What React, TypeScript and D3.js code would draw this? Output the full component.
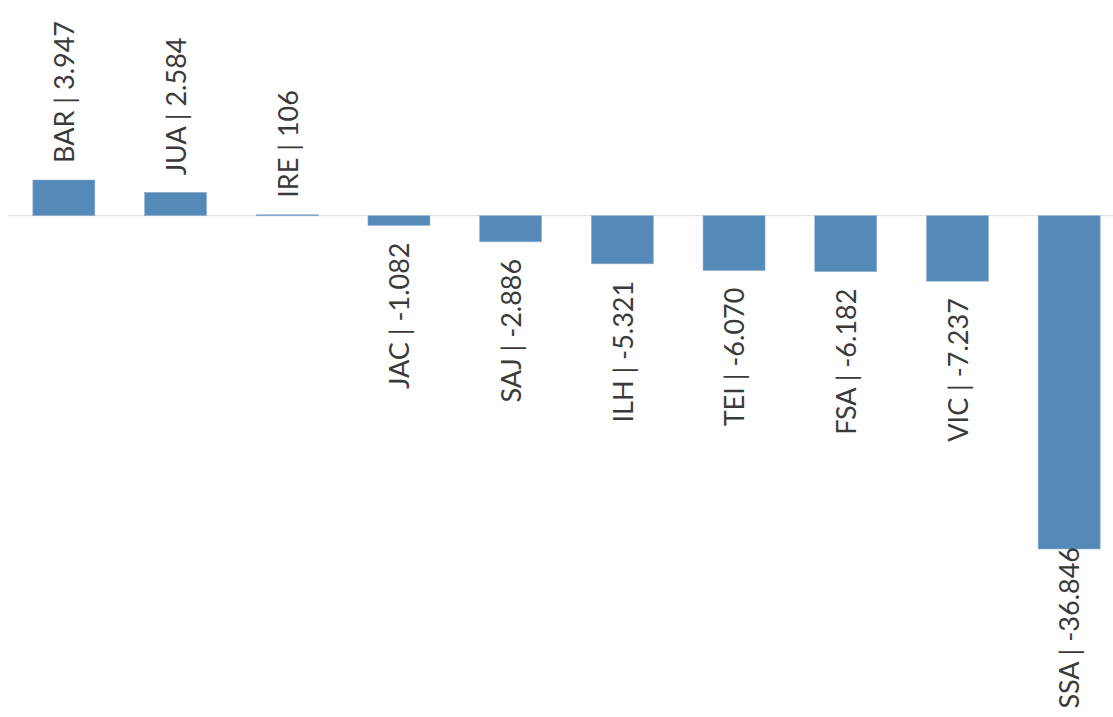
import React from "react";
import * as d3 from "d3";

const categories = ["BAR", "JUA", "IRE", "JAC", "SAJ", "ILH", "TEI", "FSA", "VIC", "SSA"];
const values = [3947, 2584, 106, -1082, -2886, -5321, -6070, -6182, -7237, -36846];

const W = 1113;
const H = 717;
const FONT = 27;

const locale = d3.formatLocale({ decimal: ",", thousands: ".", grouping: [3], currency: ["R$", ""], minus: "-" });
const fmt = locale.format(",d");

export default function App() {
  const x = d3.scaleBand<string>().domain(categories).range([8, 1125]).paddingInner(0.445).paddingOuter(0.2225);
  const y = d3.scaleLinear().domain([d3.min(values)!, d3.max(values)!]).range([549, 180]);
  const y0 = y(0);
  const capH = FONT * 0.76;
  return (
    <svg width={W} height={H} style={{ position: "absolute", left: 0, top: 0, background: "#fff" }}>
      <line x1={8} x2={W} y1={y0} y2={y0} stroke="#dcdcdc" strokeWidth={1} />
      {categories.map((c, i) => {
        const v = values[i];
        const bx = x(c)!;
        const top = Math.min(y(v), y0);
        const h = Math.max(Math.abs(y(v) - y0), 1);
        return (
          <rect key={c} x={bx} y={top} width={x.bandwidth()} height={h} fill="#5589b8" stroke="#8fb2d4" strokeWidth={0.6} />
        );
      })}
      {categories.map((c, i) => {
        const v = values[i];
        const cx = x(c)! + x.bandwidth() / 2;
        const label = `${c} | ${fmt(v)}`;
        let ly: number;
        let anchor: "start" | "end";
        if (v >= 0) {
          ly = y(v) - 17;
          anchor = "start";
        } else {
          ly = y(v) + 17;
          anchor = "end";
          if (ly + 170 > H) ly = y(v) - 2;
        }
        const bx = cx + capH / 2;
        return (
          <text
            key={c}
            transform={`translate(${bx},${ly}) rotate(-90)`}
            textAnchor={anchor}
            fontFamily="Lato, 'Open Sans', sans-serif"
            fontSize={FONT}
            fill="#3a3a3a"
          >
            {label}
          </text>
        );
      })}
    </svg>
  );
}
